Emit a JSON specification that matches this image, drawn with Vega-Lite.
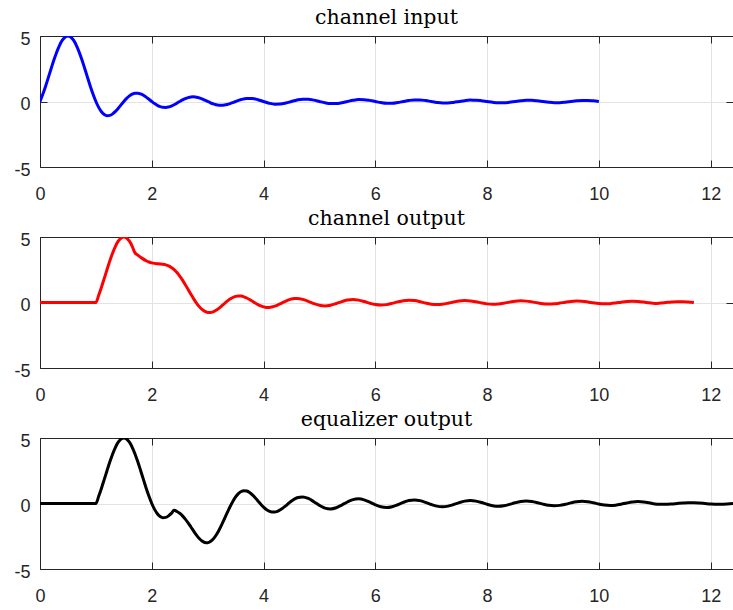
{
  "$schema": "https://vega.github.io/schema/vega-lite/v6.json",
  "padding": {"left": 13, "top": 7, "right": 0, "bottom": 0},
  "spacing": 5,
  "config": {
    "view": {"stroke": null},
    "axis": {"labelFont": "Liberation Sans", "labelFontSize": 18, "labelColor": "#262626", "domainColor": "#262626", "tickColor": "#262626", "gridColor": "#e3e3e3", "labelFlush": false, "labelOverlap": false, "labelBound": false, "tickSize": -7, "domainWidth": 1, "tickWidth": 1, "labelExpr": "datum.value + ''"},
    "axisBottom": {"labelPadding": 25},
    "axisLeft": {"labelPadding": 17, "labelOffset": 3},
    "title": {"font": "DejaVu Serif", "fontSize": 20.5, "fontWeight": "normal", "color": "#000000", "anchor": "middle", "offset": 2}
  },
  "datasets": {
    "input": [
      {"t":0,"v":0},{"t":0.05,"v":0.5464},{"t":0.1,"v":1.1695},{"t":0.15,"v":1.8394},{"t":0.2,"v":2.523},{"t":0.25,"v":3.1831},{"t":0.3,"v":3.7845},{"t":0.35,"v":4.292},{"t":0.4,"v":4.678},{"t":0.45,"v":4.918},{"t":0.5,"v":5},{"t":0.55,"v":4.918},{"t":0.6,"v":4.678},{"t":0.65,"v":4.292},{"t":0.7,"v":3.7845},{"t":0.75,"v":3.1831},{"t":0.8,"v":2.523},{"t":0.85,"v":1.8394},{"t":0.9,"v":1.1695},{"t":0.95,"v":0.5464},{"t":1,"v":0},{"t":1.05,"v":-0.4471},{"t":1.1,"v":-0.7797},{"t":1.15,"v":-0.9905},{"t":1.2,"v":-1.0813},{"t":1.25,"v":-1.061},{"t":1.3,"v":-0.9461},{"t":1.35,"v":-0.7574},{"t":1.4,"v":-0.5198},{"t":1.45,"v":-0.2588},{"t":1.5,"v":0},{"t":1.55,"v":0.2342},{"t":1.6,"v":0.4253},{"t":1.65,"v":0.5598},{"t":1.7,"v":0.6308},{"t":1.75,"v":0.6366},{"t":1.8,"v":0.5822},{"t":1.85,"v":0.4769},{"t":1.9,"v":0.3341},{"t":1.95,"v":0.1696},{"t":2,"v":0},{"t":2.05,"v":-0.1586},{"t":2.1,"v":-0.2924},{"t":2.15,"v":-0.3902},{"t":2.2,"v":-0.4452},{"t":2.25,"v":-0.4547},{"t":2.3,"v":-0.4205},{"t":2.35,"v":-0.348},{"t":2.4,"v":-0.2462},{"t":2.45,"v":-0.1261},{"t":2.5,"v":0},{"t":2.55,"v":0.12},{"t":2.6,"v":0.2228},{"t":2.65,"v":0.2994},{"t":2.7,"v":0.344},{"t":2.75,"v":0.3537},{"t":2.8,"v":0.3291},{"t":2.85,"v":0.274},{"t":2.9,"v":0.1949},{"t":2.95,"v":0.1004},{"t":3,"v":0},{"t":3.05,"v":-0.0964},{"t":3.1,"v":-0.1799},{"t":3.15,"v":-0.2429},{"t":3.2,"v":-0.2803},{"t":3.25,"v":-0.2894},{"t":3.3,"v":-0.2703},{"t":3.35,"v":-0.2259},{"t":3.4,"v":-0.1613},{"t":3.45,"v":-0.0834},{"t":3.5,"v":0},
      {"t":3.6,"v":0.1509},{"t":3.7,"v":0.2365},{"t":3.8,"v":0.2294},{"t":3.9,"v":0.1376},{"t":4,"v":0},{"t":4.1,"v":-0.1299},{"t":4.2,"v":-0.2046},{"t":4.3,"v":-0.1992},{"t":4.4,"v":-0.1199},{"t":4.5,"v":0},{"t":4.6,"v":0.1141},{"t":4.7,"v":0.1802},{"t":4.8,"v":0.176},{"t":4.9,"v":0.1063},{"t":5,"v":0},{"t":5.1,"v":-0.1017},{"t":5.2,"v":-0.161},{"t":5.3,"v":-0.1577},{"t":5.4,"v":-0.0955},{"t":5.5,"v":0},{"t":5.6,"v":0.0917},{"t":5.7,"v":0.1456},{"t":5.8,"v":0.1428},{"t":5.9,"v":0.0866},{"t":6,"v":0},{"t":6.1,"v":-0.0835},{"t":6.2,"v":-0.1328},{"t":6.3,"v":-0.1305},{"t":6.4,"v":-0.0793},{"t":6.5,"v":0},{"t":6.6,"v":0.0767},{"t":6.7,"v":0.1221},{"t":6.8,"v":0.1201},{"t":6.9,"v":0.0731},{"t":7,"v":0},{"t":7.1,"v":-0.0709},{"t":7.2,"v":-0.113},{"t":7.3,"v":-0.1113},{"t":7.4,"v":-0.0678},{"t":7.5,"v":0},{"t":7.6,"v":0.0659},{"t":7.7,"v":0.1051},{"t":7.8,"v":0.1037},{"t":7.9,"v":0.0632},{"t":8,"v":0},{"t":8.1,"v":-0.0616},{"t":8.2,"v":-0.0983},{"t":8.3,"v":-0.097},{"t":8.4,"v":-0.0592},{"t":8.5,"v":0},{"t":8.6,"v":0.0578},{"t":8.7,"v":0.0923},{"t":8.8,"v":0.0912},{"t":8.9,"v":0.0557},{"t":9,"v":0},{"t":9.1,"v":-0.0544},{"t":9.2,"v":-0.087},{"t":9.3,"v":-0.086},{"t":9.4,"v":-0.0526},{"t":9.5,"v":0},{"t":9.6,"v":0.0514},{"t":9.7,"v":0.0823},{"t":9.8,"v":0.0814},{"t":9.9,"v":0.0498},{"t":10,"v":0}
    ],
    "chout": [
      {"t":0,"v":0},{"t":1,"v":0},{"t":1.05,"v":0.5464},{"t":1.1,"v":1.1695},{"t":1.15,"v":1.8394},{"t":1.2,"v":2.523},{"t":1.25,"v":3.1831},{"t":1.3,"v":3.7845},{"t":1.35,"v":4.292},{"t":1.4,"v":4.678},{"t":1.45,"v":4.918},{"t":1.5,"v":5},{"t":1.55,"v":4.918},{"t":1.6,"v":4.678},{"t":1.65,"v":4.292},{"t":1.7,"v":3.7845},{"t":1.75,"v":3.6202},{"t":1.8,"v":3.4586},{"t":1.85,"v":3.3109},{"t":1.9,"v":3.1879},{"t":1.95,"v":3.0929},{"t":2,"v":3.0276},{"t":2.05,"v":2.9865},{"t":2.1,"v":2.9627},{"t":2.15,"v":2.9439},{"t":2.2,"v":2.9187},{"t":2.25,"v":2.8734},{"t":2.3,"v":2.7963},{"t":2.35,"v":2.6762},{"t":2.4,"v":2.5078},{"t":2.45,"v":2.2877},{"t":2.5,"v":2.0184},{"t":2.55,"v":1.7057},{"t":2.6,"v":1.3609},{"t":2.65,"v":0.9969},{"t":2.7,"v":0.6308},{"t":2.75,"v":0.2789},{"t":2.8,"v":-0.0416},{"t":2.85,"v":-0.3155},{"t":2.9,"v":-0.5309},{"t":2.95,"v":-0.6792},{"t":3,"v":-0.7569},{"t":3.05,"v":-0.7645},{"t":3.1,"v":-0.7082},{"t":3.15,"v":-0.5972},{"t":3.2,"v":-0.4452},{"t":3.25,"v":-0.2673},{"t":3.3,"v":-0.0803},{"t":3.35,"v":0.0998},{"t":3.4,"v":0.2584},{"t":3.45,"v":0.3832},{"t":3.5,"v":0.4658},{"t":3.55,"v":0.5015},{"t":3.6,"v":0.4901},{"t":3.65,"v":0.4351},{"t":3.7,"v":0.344},{"t":3.75,"v":0.2268},{"t":3.8,"v":0.0952},{"t":3.85,"v":-0.0382},{"t":3.9,"v":-0.1613},{"t":3.95,"v":-0.2634},{"t":4,"v":-0.3364},{"t":4.05,"v":-0.3748},{"t":4.1,"v":-0.3769},{"t":4.15,"v":-0.3438},{"t":4.2,"v":-0.2803},{"t":4.25,"v":-0.1934},{"t":4.3,"v":-0.0921},{"t":4.35,"v":0.0136},{"t":4.4,"v":0.1139},{"t":4.45,"v":0.1996},{"t":4.5,"v":0.2633},{"t":4.55,"v":0.2998},
      {"t":4.6,"v":0.3068},{"t":4.7,"v":0.2365},{"t":4.8,"v":0.0855},{"t":4.9,"v":-0.0866},{"t":5,"v":-0.2162},{"t":5.1,"v":-0.2589},{"t":5.2,"v":-0.2046},{"t":5.3,"v":-0.0785},{"t":5.4,"v":0.0693},{"t":5.5,"v":0.1835},{"t":5.6,"v":0.2242},{"t":5.7,"v":0.1802},{"t":5.8,"v":0.0721},{"t":5.9,"v":-0.0574},{"t":6,"v":-0.1594},{"t":6.1,"v":-0.1976},{"t":6.2,"v":-0.161},{"t":6.3,"v":-0.0664},{"t":6.4,"v":0.0487},{"t":6.5,"v":0.1408},{"t":6.6,"v":0.1767},{"t":6.7,"v":0.1456},{"t":6.8,"v":0.0614},{"t":6.9,"v":-0.0422},{"t":7,"v":-0.1262},{"t":7.1,"v":-0.1599},{"t":7.2,"v":-0.1328},{"t":7.3,"v":-0.0571},{"t":7.4,"v":0.0372},{"t":7.5,"v":0.1142},{"t":7.6,"v":0.146},{"t":7.7,"v":0.1221},{"t":7.8,"v":0.0533},{"t":7.9,"v":-0.0331},{"t":8,"v":-0.1044},{"t":8.1,"v":-0.1343},{"t":8.2,"v":-0.113},{"t":8.3,"v":-0.0499},{"t":8.4,"v":0.0299},{"t":8.5,"v":0.0961},{"t":8.6,"v":0.1244},{"t":8.7,"v":0.1051},{"t":8.8,"v":0.047},{"t":8.9,"v":-0.0272},{"t":9,"v":-0.089},{"t":9.1,"v":-0.1158},{"t":9.2,"v":-0.0983},{"t":9.3,"v":-0.0443},{"t":9.4,"v":0.0249},{"t":9.5,"v":0.083},{"t":9.6,"v":0.1084},{"t":9.7,"v":0.0923},{"t":9.8,"v":0.0419},{"t":9.9,"v":-0.0229},{"t":10,"v":-0.0776},{"t":10.1,"v":-0.1018},{"t":10.2,"v":-0.087},{"t":10.3,"v":-0.0398},{"t":10.4,"v":0.0212},{"t":10.5,"v":0.073},{"t":10.6,"v":0.096},{"t":10.7,"v":0.0823},{"t":10.8,"v":0.0379},{"t":10.9,"v":-0.0198},{"t":11,"v":-0.0688},{"t":11.1,"v":-0.0421},{"t":11.2,"v":0},{"t":11.3,"v":0.0411},{"t":11.4,"v":0.0658},{"t":11.5,"v":0.0651},{"t":11.6,"v":0.0398},{"t":11.7,"v":0}
    ],
    "eq": [
      {"t":0,"v":0},{"t":1,"v":0},{"t":1.05,"v":0.5464},{"t":1.1,"v":1.1695},{"t":1.15,"v":1.8394},{"t":1.2,"v":2.523},{"t":1.25,"v":3.1831},{"t":1.3,"v":3.7845},{"t":1.35,"v":4.292},{"t":1.4,"v":4.678},{"t":1.45,"v":4.918},{"t":1.5,"v":5},{"t":1.55,"v":4.918},{"t":1.6,"v":4.678},{"t":1.65,"v":4.292},{"t":1.7,"v":3.7845},{"t":1.75,"v":3.1831},{"t":1.8,"v":2.523},{"t":1.85,"v":1.8394},{"t":1.9,"v":1.1695},{"t":1.95,"v":0.5464},{"t":2,"v":0},{"t":2.05,"v":-0.4471},{"t":2.1,"v":-0.7797},{"t":2.15,"v":-0.9905},{"t":2.2,"v":-1.0813},{"t":2.25,"v":-1.061},{"t":2.3,"v":-0.9461},{"t":2.35,"v":-0.7574},{"t":2.4,"v":-0.5198},{"t":2.45,"v":-0.6085},{"t":2.5,"v":-0.7485},{"t":2.55,"v":-0.943},{"t":2.6,"v":-1.1894},{"t":2.65,"v":-1.4774},{"t":2.7,"v":-1.7913},{"t":2.75,"v":-2.1103},{"t":2.8,"v":-2.4117},{"t":2.85,"v":-2.6706},{"t":2.9,"v":-2.8659},{"t":2.95,"v":-2.9779},{"t":3,"v":-2.9939},{"t":3.05,"v":-2.9055},{"t":3.1,"v":-2.7145},{"t":3.15,"v":-2.4274},{"t":3.2,"v":-2.0599},{"t":3.25,"v":-1.6319},{"t":3.3,"v":-1.169},{"t":3.35,"v":-0.6977},{"t":3.4,"v":-0.2462},{"t":3.45,"v":0.16},{"t":3.5,"v":0.499},{"t":3.55,"v":0.7539},{"t":3.6,"v":0.9148},{"t":3.65,"v":0.9784},{"t":3.7,"v":0.9495},{"t":3.75,"v":0.8384},{"t":3.8,"v":0.6618},{"t":3.85,"v":0.4396},{"t":3.9,"v":0.1949},{"t":3.95,"v":-0.0495},{"t":4,"v":-0.2722},{"t":4.05,"v":-0.4547},{"t":4.1,"v":-0.5836},{"t":4.15,"v":-0.6503},{"t":4.2,"v":-0.6529},{"t":4.25,"v":-0.5946},{"t":4.3,"v":-0.4841},{"t":4.35,"v":-0.3344},{"t":4.4,"v":-0.1613},{"t":4.45,"v":0.0181},{"t":4.5,"v":0.1871},
      {"t":4.6,"v":0.4358},{"t":4.7,"v":0.5056},{"t":4.8,"v":0.387},{"t":4.9,"v":0.1376},{"t":5,"v":-0.1426},{"t":5.1,"v":-0.3501},{"t":5.2,"v":-0.4152},{"t":5.3,"v":-0.3239},{"t":5.4,"v":-0.1199},{"t":5.5,"v":0.1151},{"t":5.6,"v":0.2935},{"t":5.7,"v":0.3532},{"t":5.8,"v":0.2792},{"t":5.9,"v":0.1063},{"t":6,"v":-0.0966},{"t":6.1,"v":-0.2531},{"t":6.2,"v":-0.3078},{"t":6.3,"v":-0.2458},{"t":6.4,"v":-0.0955},{"t":6.5,"v":0.0831},{"t":6.6,"v":0.2226},{"t":6.7,"v":0.2731},{"t":6.8,"v":0.2195},{"t":6.9,"v":0.0866},{"t":7,"v":-0.073},{"t":7.1,"v":-0.1988},{"t":7.2,"v":-0.2454},{"t":7.3,"v":-0.1985},{"t":7.4,"v":-0.0793},{"t":7.5,"v":0.0651},{"t":7.6,"v":0.1797},{"t":7.7,"v":0.223},{"t":7.8,"v":0.1812},{"t":7.9,"v":0.0731},{"t":8,"v":-0.0587},{"t":8.1,"v":-0.1641},{"t":8.2,"v":-0.2044},{"t":8.3,"v":-0.1667},{"t":8.4,"v":-0.0678},{"t":8.5,"v":0.0534},{"t":8.6,"v":0.1509},{"t":8.7,"v":0.1886},{"t":8.8,"v":0.1545},{"t":8.9,"v":0.0632},{"t":9,"v":-0.0491},{"t":9.1,"v":-0.1397},{"t":9.2,"v":-0.1752},{"t":9.3,"v":-0.1438},{"t":9.4,"v":-0.0592},{"t":9.5,"v":0.0454},{"t":9.6,"v":0.1301},{"t":9.7,"v":0.1635},{"t":9.8,"v":0.1346},{"t":9.9,"v":0.0557},{"t":10,"v":-0.0422},{"t":10.1,"v":-0.1217},{"t":10.2,"v":-0.1534},{"t":10.3,"v":-0.1264},{"t":10.4,"v":-0.0526},{"t":10.5,"v":0.0394},{"t":10.6,"v":0.1143},{"t":10.7,"v":0.1444},{"t":10.8,"v":0.1193},{"t":10.9,"v":0.0498},{"t":11,"v":-0.037},{"t":11.1,"v":-0.0591},{"t":11.2,"v":-0.0584},{"t":11.3,"v":-0.0356},{"t":11.4,"v":0},{"t":11.5,"v":0.0348},{"t":11.6,"v":0.0557},{"t":11.7,"v":0.055},{"t":11.8,"v":0.0337},{"t":11.9,"v":0},{"t":12,"v":-0.0329},{"t":12.1,"v":-0.0527},{"t":12.2,"v":-0.0521},{"t":12.3,"v":-0.0319},{"t":12.4,"v":0}
    ]
  },
  "vconcat": [
    {
      "width": 693, "height": 131,
      "title": "channel input",
      "data": {"name": "input"},
      "layer": [
        {"mark": {"type": "line", "color": "#0000ff", "strokeWidth": 3, "interpolate": "monotone", "clip": true},
         "encoding": {
           "x": {"field": "t", "type": "quantitative", "scale": {"domain": [0, 12.4], "nice": false, "zero": false}, "axis": {"orient": "bottom", "title": null, "values": [0,2,4,6,8,10,12], "grid": true}},
           "y": {"field": "v", "type": "quantitative", "scale": {"domain": [-5, 5], "nice": false}, "axis": {"orient": "left", "title": null, "values": [-5,0,5], "grid": true}}}},
        {"mark": {"type": "line", "opacity": 0},
         "encoding": {
           "x": {"field": "t", "type": "quantitative", "axis": {"orient": "top", "title": null, "values": [0,2,4,6,8,10,12], "labels": false, "grid": false}},
           "y": {"field": "v", "type": "quantitative", "axis": {"orient": "right", "title": null, "values": [-5,0,5], "labels": false, "grid": false, "domain": false}}}}
      ]
    },
    {
      "width": 693, "height": 131,
      "title": "channel output",
      "data": {"name": "chout"},
      "layer": [
        {"mark": {"type": "line", "color": "#ff0000", "strokeWidth": 3, "interpolate": "monotone", "clip": true},
         "encoding": {
           "x": {"field": "t", "type": "quantitative", "scale": {"domain": [0, 12.4], "nice": false, "zero": false}, "axis": {"orient": "bottom", "title": null, "values": [0,2,4,6,8,10,12], "grid": true}},
           "y": {"field": "v", "type": "quantitative", "scale": {"domain": [-5, 5], "nice": false}, "axis": {"orient": "left", "title": null, "values": [-5,0,5], "grid": true}}}},
        {"mark": {"type": "line", "opacity": 0},
         "encoding": {
           "x": {"field": "t", "type": "quantitative", "axis": {"orient": "top", "title": null, "values": [0,2,4,6,8,10,12], "labels": false, "grid": false}},
           "y": {"field": "v", "type": "quantitative", "axis": {"orient": "right", "title": null, "values": [-5,0,5], "labels": false, "grid": false, "domain": false}}}}
      ]
    },
    {
      "width": 693, "height": 131,
      "title": "equalizer output",
      "data": {"name": "eq"},
      "layer": [
        {"mark": {"type": "line", "color": "#000000", "strokeWidth": 3, "interpolate": "monotone", "clip": true},
         "encoding": {
           "x": {"field": "t", "type": "quantitative", "scale": {"domain": [0, 12.4], "nice": false, "zero": false}, "axis": {"orient": "bottom", "title": null, "values": [0,2,4,6,8,10,12], "grid": true}},
           "y": {"field": "v", "type": "quantitative", "scale": {"domain": [-5, 5], "nice": false}, "axis": {"orient": "left", "title": null, "values": [-5,0,5], "grid": true}}}},
        {"mark": {"type": "line", "opacity": 0},
         "encoding": {
           "x": {"field": "t", "type": "quantitative", "axis": {"orient": "top", "title": null, "values": [0,2,4,6,8,10,12], "labels": false, "grid": false}},
           "y": {"field": "v", "type": "quantitative", "axis": {"orient": "right", "title": null, "values": [-5,0,5], "labels": false, "grid": false, "domain": false}}}}
      ]
    }
  ]
}
